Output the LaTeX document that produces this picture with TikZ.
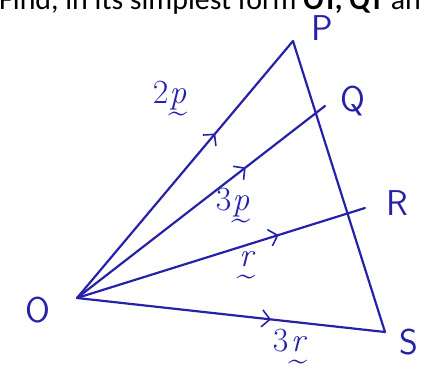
\documentclass[tikz,border=0pt]{standalone}
\usepackage{fontspec}
\newfontfamily\headfont{Carlito}
\usetikzlibrary{arrows.meta, decorations.markings}
\definecolor{ink}{RGB}{38,34,168}
% letter with a tilde under it (handwritten vector)
\newcommand{\vtil}[1]{\begin{tabular}[t]{@{}c@{}}\itshape #1\\[-0.5em]\textasciitilde\end{tabular}}

\begin{document}
\begin{tikzpicture}[
    x=1bp, y=-1bp,
    side/.style={draw=ink, line width=2.2pt, line cap=round},
    midarrow/.style={postaction={decorate}, decoration={markings,
        mark=at position #1 with {\arrow{Straight Barb[length=8bp, width=17bp, line width=1.6pt]}}}},
    corner/.style={text=ink, font=\fontsize{36}{38}\selectfont\sffamily, inner sep=0pt},
    vlabel/.style={text=ink, font=\fontsize{34}{36}\selectfont, inner sep=0pt}
]
\useasboundingbox (0,0) rectangle (421,369);
\clip (0,0) rectangle (421,369);

% question text, cut at the top
\node (head) [anchor=base west, inner sep=0pt, font=\headfont\fontsize{30}{32}\selectfont] at (-1,9)
    {Find, in its simplest form \textbf{OT, QT} and};

% points
\coordinate (O) at (77,298);
\coordinate (P) at (293,41);
\coordinate (Q) at (315,112);
\coordinate (Qend) at (325,106);
\coordinate (R) at (348,213);
\coordinate (Rend) at (365,208);
\coordinate (S) at (385,332);

% sides
\draw [side, midarrow=0.64] (O) -- (P);
\draw [side, midarrow=0.68] (O) -- (Qend);
\draw [side, midarrow=0.70] (O) -- (Rend);
\draw [side, midarrow=0.63] (O) -- (S);
\draw [side] (P) -- (S);

% letters
\node (labO) [corner] at (38,310) {O};
\node (labP) [corner] at (322,28) {P};
\node (labQ) [corner] at (353,101) {Q};
\node (labR) [corner] at (397,203) {R};
\node (labS) [corner] at (409,342) {S};

% vectors
\node (vOP) [vlabel] at (170,106) {2\vtil{p}};
\node (vOQ) [vlabel] at (233,213) {3\vtil{p}};
\node (vOR) [vlabel] at (246,269) {\vtil{r}};
\node (vOS) [vlabel] at (290,354) {3\vtil{r}};

\end{tikzpicture}
\end{document}
